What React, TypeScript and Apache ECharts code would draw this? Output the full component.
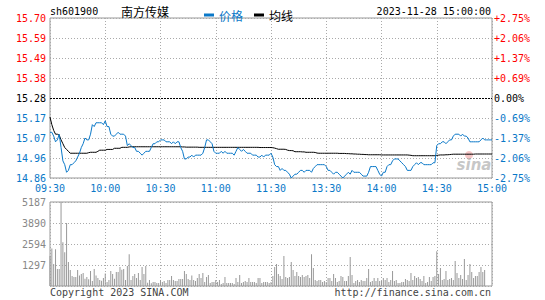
import React, { useEffect, useRef } from 'react';
import * as echarts from 'echarts';

const stockCode = 'sh601900';
const stockName = '南方传媒';
const dateTime = '2023-11-28 15:00:00';
const copyrightText = 'Copyright 2023 SINA.COM';
const urlText = 'http://finance.sina.com.cn';
const prevClose = 15.28;
const priceMin = 14.86;
const priceMax = 15.7;
const volMax = 5187;

const timeLabels = ['09:30', '10:00', '10:30', '11:00', '11:30', '13:30', '14:00', '14:30', '15:00'];
const priceTicks = ['14.86', '14.96', '15.07', '15.17', '15.28', '15.38', '15.49', '15.59', '15.70'];
const pctTicks = ['-2.75%', '-2.06%', '-1.37%', '-0.69%', '0.00%', '+0.69%', '+1.37%', '+2.06%', '+2.75%'];
const volTicks = ['', '1297', '2594', '3890', '5187'];
const legendNames = ['价格', '均线'];

const prices = [
  15.10, 15.10, 15.08, 15.05, 15.06, 15.09, 15.02, 14.95, 14.93, 14.89, 14.90,
  14.93, 14.93, 14.94, 14.95, 14.97, 14.99, 15.02, 15.04, 15.07, 15.06,
  15.06, 15.09, 15.14, 15.13, 15.15, 15.15, 15.15, 15.15, 15.14, 15.16,
  15.13, 15.13, 15.09, 15.08, 15.08, 15.09, 15.10, 15.09, 15.09, 15.09,
  15.08, 15.03, 15.04, 15.03, 15.02, 15.02, 15.00, 15.00, 14.99, 14.98,
  14.99, 15.00, 15.00, 15.00, 15.02, 15.04, 15.04, 15.05, 15.05, 15.06,
  15.06, 15.06, 15.05, 15.05, 15.05, 15.04, 15.05, 15.04, 15.05, 15.05,
  15.02, 15.00, 14.96, 14.96, 14.97, 14.97, 14.98, 14.97, 14.98, 14.98,
  14.98, 14.98, 14.99, 15.02, 15.06, 15.06, 15.05, 15.04, 15.00, 14.99,
  14.99, 14.99, 15.00, 14.99, 15.00, 14.99, 14.99, 14.99, 14.99, 14.98,
  15.00, 15.02, 15.01, 15.00, 15.01, 15.00, 14.99, 14.99, 14.99, 14.98,
  14.98, 14.98, 14.97, 14.97, 14.98, 14.97, 14.98, 14.98, 14.98, 14.99,
  14.97, 14.93, 14.92, 14.92, 14.90, 14.91, 14.90, 14.90, 14.89, 14.88,
  14.86, 14.87, 14.88, 14.88, 14.89, 14.90, 14.90, 14.89, 14.90, 14.90,
  14.90, 14.89, 14.91, 14.92, 14.93, 14.93, 14.93, 14.93, 14.93, 14.92,
  14.90, 14.90, 14.89, 14.88, 14.89, 14.89, 14.88, 14.87, 14.86, 14.87,
  14.88, 14.89, 14.88, 14.90, 14.89, 14.89, 14.89, 14.89, 14.88, 14.87,
  14.87, 14.87, 14.89, 14.92, 14.92, 14.92, 14.92, 14.90, 14.88, 14.87,
  14.89, 14.89, 14.92, 14.93, 14.93, 14.95, 14.96, 14.96, 14.96, 14.95,
  14.94, 14.93, 14.92, 14.90, 14.90, 14.90, 14.92, 14.93, 14.94, 14.93,
  14.94, 14.94, 14.93, 14.93, 14.93, 14.93, 14.93, 14.94, 14.94, 15.03,
  15.04, 15.04, 15.05, 15.05, 15.04, 15.05, 15.06, 15.06, 15.08, 15.09,
  15.09, 15.09, 15.08, 15.09, 15.08, 15.08, 15.07, 15.05, 15.05, 15.05,
  15.05, 15.05, 15.05, 15.06, 15.07, 15.06, 15.06, 15.06, 15.06, 15.06,
];

const avgPrices = [
  15.18, 15.14, 15.11, 15.09, 15.09, 15.085, 15.06, 15.04, 15.02, 15.01, 15.00,
  14.99, 14.99, 14.99, 14.99, 14.99, 14.99, 14.99, 14.99, 14.99, 14.99,
  14.993, 14.995, 14.995, 14.995, 14.995, 15.0, 15.006, 15.006, 15.006, 15.006,
  15.01, 15.01, 15.01, 15.01, 15.016, 15.016, 15.016, 15.016, 15.021, 15.021,
  15.021, 15.021, 15.023, 15.024, 15.024, 15.024, 15.024, 15.024, 15.024, 15.024,
  15.024, 15.024, 15.024, 15.024, 15.024, 15.024, 15.024, 15.024, 15.024, 15.024,
  15.024, 15.024, 15.024, 15.024, 15.024, 15.024, 15.024, 15.024, 15.024, 15.024,
  15.024, 15.023, 15.023, 15.022, 15.022, 15.022, 15.022, 15.022, 15.022, 15.022,
  15.021, 15.021, 15.021, 15.021, 15.021, 15.021, 15.021, 15.021, 15.021, 15.021,
  15.021, 15.021, 15.021, 15.021, 15.021, 15.021, 15.021, 15.021, 15.021, 15.021,
  15.021, 15.021, 15.021, 15.021, 15.021, 15.021, 15.021, 15.021, 15.021, 15.021,
  15.021, 15.021, 15.021, 15.02, 15.02, 15.02, 15.02, 15.02, 15.02, 15.02,
  15.019, 15.017, 15.014, 15.011, 15.011, 15.011, 15.011, 15.01, 15.006, 15.004,
  15.004, 15.003, 14.998, 14.998, 14.998, 14.998, 14.997, 14.997, 14.995, 14.995,
  14.995, 14.995, 14.995, 14.994, 14.991, 14.99, 14.99, 14.99, 14.99, 14.99,
  14.99, 14.99, 14.99, 14.99, 14.99, 14.99, 14.989, 14.989, 14.989, 14.989,
  14.988, 14.988, 14.987, 14.987, 14.986, 14.986, 14.985, 14.985, 14.984, 14.984,
  14.983, 14.983, 14.982, 14.982, 14.982, 14.982, 14.982, 14.982, 14.982, 14.981,
  14.981, 14.981, 14.981, 14.981, 14.981, 14.981, 14.981, 14.981, 14.981, 14.981,
  14.981, 14.981, 14.981, 14.981, 14.98, 14.979, 14.977, 14.977, 14.977, 14.977,
  14.977, 14.977, 14.977, 14.977, 14.977, 14.977, 14.977, 14.977, 14.977, 14.978,
  14.98, 14.981, 14.981, 14.981, 14.982, 14.982, 14.983, 14.984, 14.985, 14.985,
  14.985, 14.985, 14.985, 14.985, 14.985, 14.985, 14.985, 14.985, 14.985, 14.985,
  14.986, 14.986, 14.986, 14.986, 14.986, 14.986, 14.986, 14.986, 14.986, 14.986,
];

const volumes = [
  1845, 2316, 1353, 2275, 1045, 1045, 5187, 2706, 2090, 3890, 1476,
  984, 615, 553, 553, 984, 656, 738, 800, 451, 553,
  410, 922, 308, 1045, 656, 492, 369, 328, 492, 779,
  246, 369, 922, 738, 451, 861, 861, 1168, 1004, 1045,
  369, 1230, 1968, 369, 615, 738, 492, 800, 369, 1168,
  738, 1230, 205, 369, 164, 246, 246, 185, 185, 369,
  246, 308, 185, 369, 369, 615, 369, 308, 308, 430,
  430, 430, 922, 738, 430, 369, 656, 369, 308, 492,
  738, 492, 800, 246, 553, 677, 185, 246, 246, 369,
  246, 369, 123, 185, 553, 185, 185, 185, 185, 123,
  492, 246, 677, 185, 246, 308, 246, 492, 246, 246,
  246, 185, 492, 492, 185, 246, 246, 246, 185, 246,
  615, 1168, 1353, 738, 615, 430, 1845, 553, 492, 553,
  1476, 984, 615, 861, 615, 553, 677, 553, 615, 677,
  492, 1968, 1107, 369, 308, 369, 369, 246, 308, 246,
  492, 492, 308, 738, 492, 246, 308, 615, 553, 308,
  308, 615, 1784, 677, 185, 308, 369, 246, 369, 308,
  308, 492, 1045, 246, 308, 492, 308, 492, 308, 308,
  492, 369, 492, 246, 369, 922, 308, 369, 185, 185,
  246, 246, 430, 369, 308, 800, 369, 615, 492, 553,
  430, 308, 615, 185, 246, 553, 308, 553, 615, 2152,
  738, 1107, 369, 430, 922, 369, 430, 492, 369, 1537,
  800, 492, 677, 430, 1660, 369, 677, 1353, 861, 492,
  615, 615, 861, 1168, 861, 984, 0, 0, 0, 0,
];

function buildTimes(): string[] {
  const out: string[] = [];
  const fmt = (t: number) =>
    String(Math.floor(t / 60)).padStart(2, '0') + ':' + String(t % 60).padStart(2, '0');
  for (let t = 9 * 60 + 30; t <= 11 * 60 + 30; t++) out.push(fmt(t));
  for (let t = 13 * 60 + 1; t <= 15 * 60; t++) out.push(fmt(t));
  return out;
}

const BLUE = '#0a78c8';
const RED = '#ff0000';
const MONO = '"DejaVu Sans Mono", monospace';
const CJK = '"Noto Sans CJK SC", sans-serif';

export default function App() {
  const ref = useRef<HTMLDivElement>(null);

  useEffect(() => {
    if (!ref.current) return;
    const chart = echarts.init(ref.current, null, { renderer: 'svg' });
    const times = buildTimes();
    const priceStep = (priceMax - priceMin) / 8;
    const tickIdx = (v: number) => Math.round((Number(v) - priceMin) / priceStep);
    const priceColor = (v: any) => {
      const n = Number(v);
      if (Math.abs(n - prevClose) < 1e-6) return '#000';
      return n > prevClose ? RED : BLUE;
    };
    const isMajor = (i: number) => i % 30 === 0;
    const dotted = { color: '#aaa', type: [1, 2] as any, width: 1 };

    chart.setOption({
      animation: false,
      textStyle: { fontFamily: MONO },
      grid: [
        { left: 50, top: 18, width: 442, height: 160, show: true, borderColor: '#999', borderWidth: 1 },
        { left: 50, top: 202, width: 442, height: 84, show: true, borderColor: '#999', borderWidth: 1 },
      ],
      legend: {
        left: 199,
        top: 4,
        icon: 'rect',
        itemWidth: 10,
        itemHeight: 3,
        itemGap: 11,
        selectedMode: false,
        textStyle: { fontFamily: CJK, fontSize: 12 },
        data: [
          { name: legendNames[0], textStyle: { color: BLUE } },
          { name: legendNames[1], textStyle: { color: '#000' } },
        ],
      },
      xAxis: [
        {
          type: 'category',
          gridIndex: 0,
          data: times,
          boundaryGap: false,
          axisLine: { show: false },
          axisTick: { show: false },
          axisLabel: {
            interval: (i: number) => isMajor(i),
            formatter: (_v: string, i: number) => timeLabels[i / 30] ?? '',
            color: BLUE,
            fontSize: 10,
            fontFamily: MONO,
            margin: 5,
          },
          splitLine: { show: true, interval: (i: number) => isMajor(i), lineStyle: dotted },
        },
        {
          type: 'category',
          gridIndex: 1,
          data: times,
          boundaryGap: false,
          axisLine: { show: false },
          axisTick: { show: false },
          axisLabel: { show: false },
          splitLine: { show: true, interval: (i: number) => isMajor(i), lineStyle: dotted },
        },
      ],
      yAxis: [
        {
          type: 'value',
          gridIndex: 0,
          position: 'left',
          min: priceMin,
          max: priceMax,
          interval: priceStep,
          axisLine: { show: false },
          axisTick: { show: false },
          axisLabel: {
            formatter: (v: number) => priceTicks[tickIdx(v)] ?? '',
            color: priceColor,
            fontSize: 10,
            fontFamily: MONO,
            margin: 4,
          },
          splitLine: { show: true, lineStyle: dotted },
        },
        {
          type: 'value',
          gridIndex: 0,
          position: 'right',
          min: priceMin,
          max: priceMax,
          interval: priceStep,
          axisLine: { show: false },
          axisTick: { show: false },
          axisLabel: {
            formatter: (v: number) => pctTicks[tickIdx(v)] ?? '',
            color: priceColor,
            fontSize: 10,
            fontFamily: MONO,
            margin: 2,
          },
          splitLine: { show: false },
        },
        {
          type: 'value',
          gridIndex: 1,
          min: 0,
          max: volMax,
          interval: volMax / 4,
          axisLine: { show: false },
          axisTick: { show: false },
          axisLabel: {
            formatter: (v: number) => volTicks[Math.round((Number(v) / volMax) * 4)] ?? '',
            color: '#888',
            fontSize: 10,
            fontFamily: MONO,
            margin: 4,
          },
          splitLine: { show: true, lineStyle: dotted },
        },
      ],
      series: [
        {
          name: legendNames[0],
          type: 'line',
          xAxisIndex: 0,
          yAxisIndex: 0,
          data: prices,
          symbol: 'none',
          showSymbol: false,
          lineStyle: { color: BLUE, width: 1 },
          itemStyle: { color: BLUE },
          z: 3,
          markLine: {
            silent: true,
            symbol: 'none',
            animation: false,
            label: { show: false },
            lineStyle: { color: '#000', type: [2, 1] as any, width: 1 },
            data: [{ yAxis: prevClose }],
          },
        },
        {
          name: legendNames[1],
          type: 'line',
          xAxisIndex: 0,
          yAxisIndex: 0,
          data: avgPrices,
          symbol: 'none',
          showSymbol: false,
          lineStyle: { color: '#000', width: 1 },
          itemStyle: { color: '#000' },
          z: 2,
        },
        {
          name: 'volume',
          type: 'bar',
          xAxisIndex: 1,
          yAxisIndex: 2,
          data: volumes,
          barWidth: 1,
          itemStyle: { color: '#999' },
        },
      ],
      graphic: [
        {
          type: 'text', x: 50, y: 11,
          style: { text: stockCode, fill: '#000', font: `10px ${MONO}`, textAlign: 'left', textVerticalAlign: 'middle' },
        },
        {
          type: 'text', x: 121, y: 11,
          style: { text: stockName, fill: '#000', font: `12px ${CJK}`, textAlign: 'left', textVerticalAlign: 'middle' },
        },
        {
          type: 'text', x: 491, y: 11,
          style: { text: dateTime, fill: '#000', font: `10px ${MONO}`, textAlign: 'right', textVerticalAlign: 'middle' },
        },
        {
          type: 'text', x: 50, y: 292,
          style: { text: copyrightText, fill: '#444', font: `10px ${MONO}`, textAlign: 'left', textVerticalAlign: 'middle' },
        },
        {
          type: 'text', x: 491, y: 292,
          style: { text: urlText, fill: '#444', font: `10px ${MONO}`, textAlign: 'right', textVerticalAlign: 'middle' },
        },
        {
          type: 'circle', shape: { cx: 469, cy: 155, r: 4 },
          style: { fill: 'rgba(235,130,130,0.45)' }, silent: true,
        },
        {
          type: 'text', x: 474, y: 165,
          style: {
            text: 'sina', fill: 'rgba(150,150,150,0.55)', font: 'italic bold 15px "DejaVu Sans", sans-serif',
            textAlign: 'center', textVerticalAlign: 'middle',
          },
          silent: true,
        },
      ],
    });
    return () => chart.dispose();
  }, []);

  return (
    <div
      ref={ref}
      style={{ position: 'fixed', left: 0, top: 0, width: 545, height: 300, background: '#fff' }}
    />
  );
}
